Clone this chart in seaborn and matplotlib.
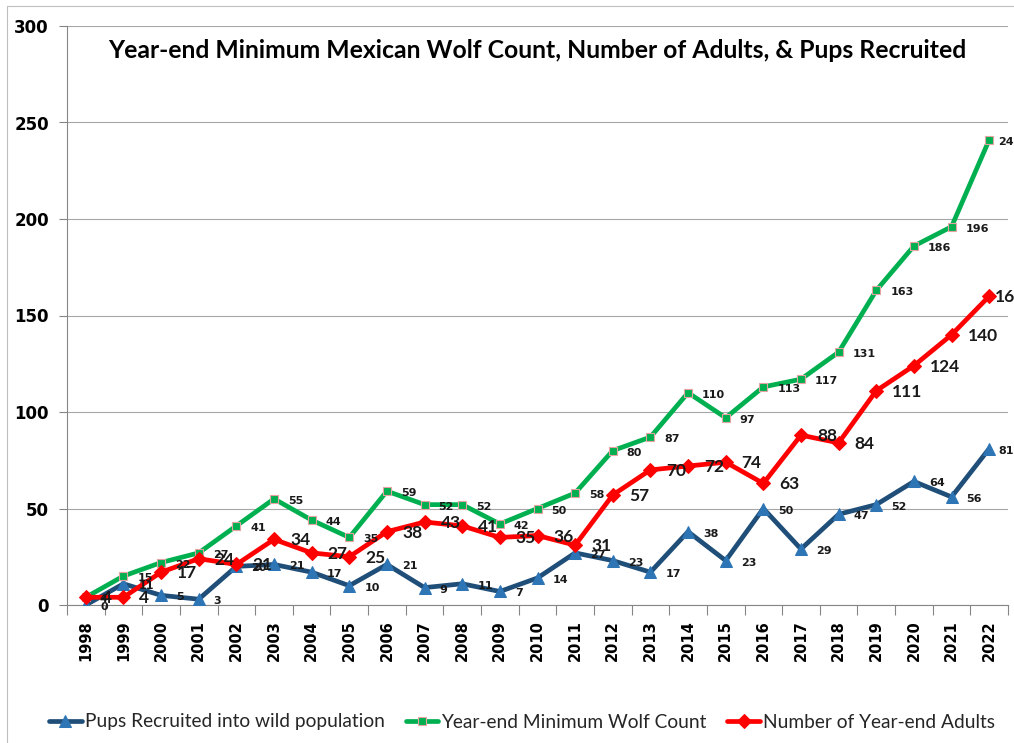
import numpy as np
import pandas as pd
import matplotlib
matplotlib.use("Agg")
import matplotlib.pyplot as plt
from matplotlib.lines import Line2D
import seaborn as sns

years = list(range(1998, 2023))
pups = [0, 11, 5, 3, 20, 21, 17, 10, 21, 9, 11, 7, 14, 27, 23, 17, 38, 23, 50, 29, 47, 52, 64, 56, 81]
wolf_count = [4, 15, 22, 27, 41, 55, 44, 35, 59, 52, 52, 42, 50, 58, 80, 87, 110, 97, 113, 117, 131, 163, 186, 196, 241]
adults = [4, 4, 17, 24, 21, 34, 27, 25, 38, 43, 41, 35, 36, 31, 57, 70, 72, 74, 63, 88, 84, 111, 124, 140, 160]

series_names = ["Pups Recruited into wild population",
                "Year-end Minimum Wolf Count",
                "Number of Year-end Adults"]
title = "Year-end Minimum Mexican Wolf Count, Number of Adults, & Pups Recruited"

sns.set_theme(style="white")
plt.rcParams['font.family'] = ['DejaVu Sans']

W, H = 1014, 743
fig = plt.figure(figsize=(W / 100, H / 100), dpi=100)
ax = fig.add_axes([67 / W, 1 - 605 / H, (1008 - 67) / W, (605 - 26) / H])

idx = np.arange(len(years))
df = pd.DataFrame({"idx": idx, "year": years, "pups": pups,
                   "wolf": wolf_count, "adults": adults})

GRID = '#A6A6A6'
ax.set_ylim(0, 300)
ax.set_xlim(-0.5, len(years) - 0.5)
ax.set_yticks(range(0, 301, 50))
ax.yaxis.grid(True, color=GRID, lw=0.8)
ax.set_axisbelow(True)

blue, green, red = '#1F4E79', '#00B050', '#FF0000'

sns.lineplot(data=df, x="idx", y="pups", ax=ax, color=blue, lw=3.4,
             marker='^', markersize=8, markerfacecolor='#2E75B6',
             markeredgecolor='#2E75B6', label=series_names[0], zorder=3)
sns.lineplot(data=df, x="idx", y="wolf", ax=ax, color=green, lw=3.4,
             marker='s', markersize=6, markerfacecolor=green,
             markeredgecolor='#E7A3A3', markeredgewidth=0.8,
             label=series_names[1], zorder=4)
sns.lineplot(data=df, x="idx", y="adults", ax=ax, color=red, lw=3.4,
             marker='D', markersize=7.5, markerfacecolor=red,
             markeredgecolor=red, label=series_names[2], zorder=5)

last = len(years) - 1
for i, v in enumerate(pups):
    dx = 15 if i != last else 9
    ax.annotate(str(v), (i, v), xytext=(dx, -2), textcoords='offset pixels',
                ha='left', va='center', fontsize=8, fontweight='bold',
                color='#1a1a1a', zorder=6, annotation_clip=False)
for i, v in enumerate(wolf_count):
    dx = 14 if i != last else 9
    ax.annotate(str(v), (i, v), xytext=(dx, -2), textcoords='offset pixels',
                ha='left', va='center', fontsize=8, fontweight='bold',
                color='#1a1a1a', zorder=6, annotation_clip=False)
for i, v in enumerate(adults):
    dx = 16 if i != last else 6
    ax.annotate(str(v), (i, v), xytext=(dx, -1), textcoords='offset pixels',
                ha='left', va='center', fontsize=12.5, fontweight='bold',
                family=['Lato', 'DejaVu Sans'], color='#1a1a1a', zorder=6,
                annotation_clip=False)

# axes styling
for s in ['top', 'right']:
    ax.spines[s].set_visible(False)
for s in ['left', 'bottom']:
    ax.spines[s].set_color('#868686')
    ax.spines[s].set_linewidth(0.8)

ax.set_xticks(idx)
ax.set_xticklabels([str(y) for y in years], rotation=90, fontsize=10.5,
                   fontweight='bold', color='black')
ax.set_xticks(np.arange(-0.5, len(years), 1), minor=True)
ax.tick_params(axis='x', which='major', length=0, pad=11)
ax.tick_params(axis='x', which='minor', length=7, width=0.8, color='#868686',
               direction='out', bottom=True)
ax.tick_params(axis='y', which='major', length=6, width=0.8, color='#868686',
               direction='out', left=True, pad=7, labelsize=12)
for t in ax.get_yticklabels():
    t.set_fontweight('bold')
    t.set_color('black')
ax.set_xlabel('')
ax.set_ylabel('')

ax.text(0.5, 0.958, title, transform=ax.transAxes, ha='center', va='center',
        fontsize=17.8, fontweight='bold', family=['Lato', 'DejaVu Sans'],
        color='black')

ax.get_legend().remove()
handles, labels = ax.get_legend_handles_labels()
fig.legend(handles, labels, loc='center', bbox_to_anchor=(522 / W, 1 - 722 / H),
           ncol=3, frameon=False, handlelength=1.7, handletextpad=0.15,
           columnspacing=1.1, prop={'family': ['Lato', 'DejaVu Sans'], 'size': 13.8})

# outer frame of the chart
fig.add_artist(Line2D([7 / W, 7 / W], [0, 1 - 6 / H], transform=fig.transFigure,
                      color='#BFBFBF', lw=0.8))
fig.add_artist(Line2D([7 / W, 1], [1 - 6 / H, 1 - 6 / H], transform=fig.transFigure,
                      color='#BFBFBF', lw=0.8))

fig.savefig('out.png', dpi=100, facecolor='white')
